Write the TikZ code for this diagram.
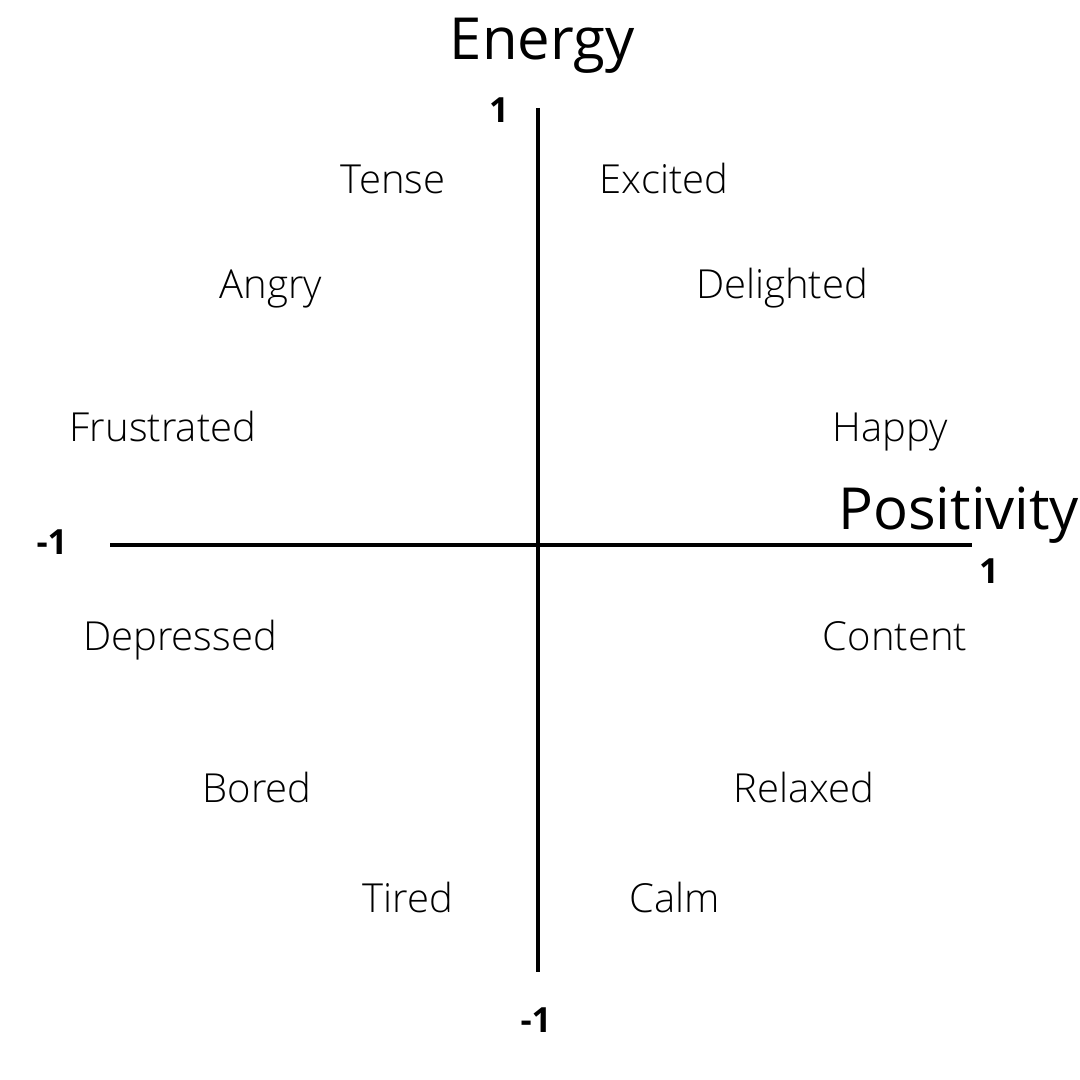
\documentclass[tikz,border=0pt]{standalone}
\usepackage{fontspec}
\setmainfont{Open Sans}[UprightFont=* Light, BoldFont=* Bold]
\newfontfamily\titlefont{Open Sans}
\usetikzlibrary{positioning}

\begin{document}
\begin{tikzpicture}[
  x=0.75pt, y=-0.75pt,
  mood/.style={font=\fontsize{30pt}{32pt}\selectfont, inner sep=0pt, anchor=base},
  axtitle/.style={font=\titlefont\fontsize{43.5pt}{45pt}\selectfont, inner sep=0pt},
  tick/.style={font=\fontsize{26pt}{28pt}\selectfont\bfseries, inner sep=0pt},
  axis/.style={line width=3pt}
]
% Canvas in pixel units of the 1080 by 1080 image.
\path[use as bounding box] (0,0) rectangle (1080,1080);

% Axes meet at the centre.
\coordinate (ytop) at (538,108);
\coordinate (ybot) at (538,972);
\coordinate (xleft) at (110,545);
\coordinate (xright) at (972,545);
\draw[axis] (ytop) -- (ybot);
\draw[axis] (xleft) -- (xright);

% Axis titles and end values.
\node[axtitle, anchor=base] (energy) at (542,60) {Energy};
\node[axtitle, anchor=base west] (positivity) at (838,529) {Positivity};
\node[tick] (ymax) at (499,110) {1};
\node[tick] (ymin) at (536,1020) {-1};
\node[tick] (xmin) at (52,542) {-1};
\node[tick] (xmax) at (989,571) {1};

% Moods, upper half (placed on their baselines).
\node[mood] (tense) at (393,194) {Tense};
\node[mood] (excited) at (664,194) {Excited};
\node[mood] (angry) at (271,299) {Angry};
\node[mood] (delighted) at (782,299) {Delighted};
\node[mood] (frustrated) at (163,441) {Frustrated};
\node[mood] (happy) at (890,441) {Happy};

% Moods, lower half.
\node[mood] (depressed) at (180,650) {Depressed};
\node[mood] (content) at (895,650) {Content};
\node[mood] (bored) at (257,802) {Bored};
\node[mood] (relaxed) at (804,802) {Relaxed};
\node[mood] (tired) at (408,912) {Tired};
\node[mood] (calm) at (675,912) {Calm};
\end{tikzpicture}
\end{document}
